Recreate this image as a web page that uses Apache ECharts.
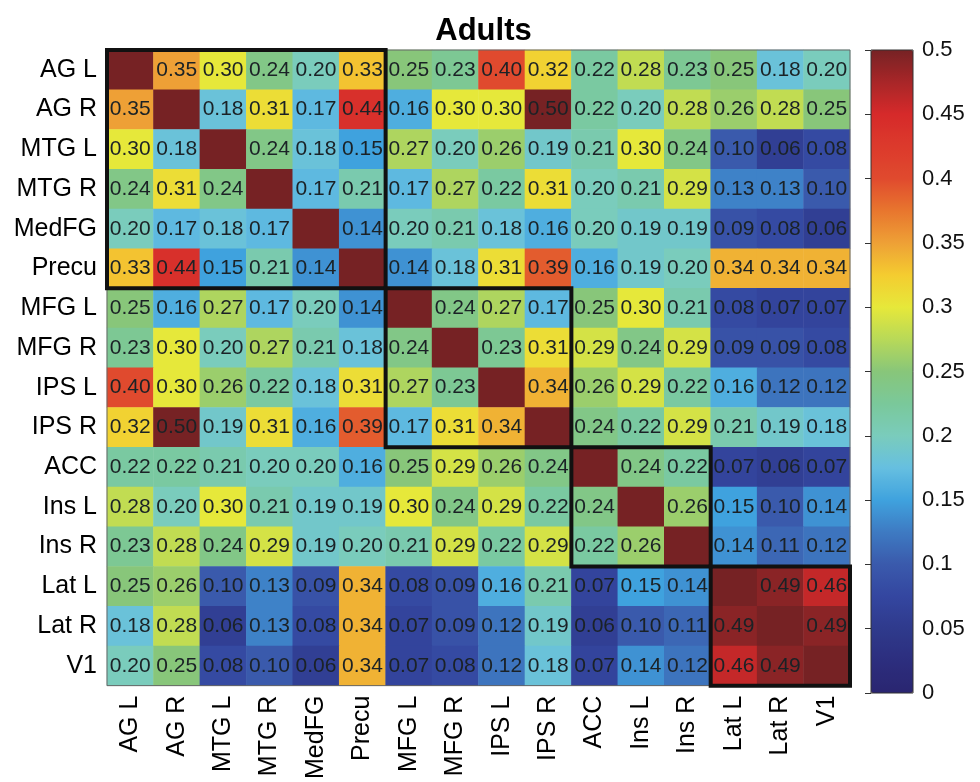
<!DOCTYPE html>
<html>
<head>
<meta charset="utf-8">
<script src="https://cdn.jsdelivr.net/npm/echarts@6/dist/echarts.min.js"></script>
<style>
html,body{margin:0;padding:0;background:#fff;}
#chart{width:980px;height:782px;}
</style>
</head>
<body>
<div id="chart"></div>
<script>
// Region labels (rows top to bottom, columns left to right)
const regions = ['AG L','AG R','MTG L','MTG R','MedFG','Precu','MFG L','MFG R','IPS L','IPS R','ACC','Ins L','Ins R','Lat L','Lat R','V1'];

// Correlation matrix (diagonal = 1, drawn saturated, no label)
const matrix = [
  [1.00,0.35,0.30,0.24,0.20,0.33,0.25,0.23,0.40,0.32,0.22,0.28,0.23,0.25,0.18,0.20],
  [0.35,1.00,0.18,0.31,0.17,0.44,0.16,0.30,0.30,0.50,0.22,0.20,0.28,0.26,0.28,0.25],
  [0.30,0.18,1.00,0.24,0.18,0.15,0.27,0.20,0.26,0.19,0.21,0.30,0.24,0.10,0.06,0.08],
  [0.24,0.31,0.24,1.00,0.17,0.21,0.17,0.27,0.22,0.31,0.20,0.21,0.29,0.13,0.13,0.10],
  [0.20,0.17,0.18,0.17,1.00,0.14,0.20,0.21,0.18,0.16,0.20,0.19,0.19,0.09,0.08,0.06],
  [0.33,0.44,0.15,0.21,0.14,1.00,0.14,0.18,0.31,0.39,0.16,0.19,0.20,0.34,0.34,0.34],
  [0.25,0.16,0.27,0.17,0.20,0.14,1.00,0.24,0.27,0.17,0.25,0.30,0.21,0.08,0.07,0.07],
  [0.23,0.30,0.20,0.27,0.21,0.18,0.24,1.00,0.23,0.31,0.29,0.24,0.29,0.09,0.09,0.08],
  [0.40,0.30,0.26,0.22,0.18,0.31,0.27,0.23,1.00,0.34,0.26,0.29,0.22,0.16,0.12,0.12],
  [0.32,0.50,0.19,0.31,0.16,0.39,0.17,0.31,0.34,1.00,0.24,0.22,0.29,0.21,0.19,0.18],
  [0.22,0.22,0.21,0.20,0.20,0.16,0.25,0.29,0.26,0.24,1.00,0.24,0.22,0.07,0.06,0.07],
  [0.28,0.20,0.30,0.21,0.19,0.19,0.30,0.24,0.29,0.22,0.24,1.00,0.26,0.15,0.10,0.14],
  [0.23,0.28,0.24,0.29,0.19,0.20,0.21,0.29,0.22,0.29,0.22,0.26,1.00,0.14,0.11,0.12],
  [0.25,0.26,0.10,0.13,0.09,0.34,0.08,0.09,0.16,0.21,0.07,0.15,0.14,1.00,0.49,0.46],
  [0.18,0.28,0.06,0.13,0.08,0.34,0.07,0.09,0.12,0.19,0.06,0.10,0.11,0.49,1.00,0.49],
  [0.20,0.25,0.08,0.10,0.06,0.34,0.07,0.08,0.12,0.18,0.07,0.14,0.12,0.46,0.49,1.00]
];

// Module blocks outlined in black: [first index, last index]
const modules = [[0,5],[6,9],[10,12],[13,15]];

// Colour scale
const colorMin = 0, colorMax = 0.5, colorStep = 0.05;
const jetColors = ['#2a2570','#2c2e7e','#2f3a8c','#3446a0','#3a5aac','#3e7ac2','#3fa2de','#66bfe0','#7accbc','#7ac89a','#88c67a','#b8d958','#e6e83a','#f4cc30','#eea036','#e8762e','#e04a2e','#dc3a2c','#d62a2a','#a82628','#762224'];

const heatData = [];
matrix.forEach((row, r) => row.forEach((v, c) => heatData.push([c, r, v])));

const FONT = '"Liberation Sans", Arial, Helvetica, sans-serif';
const chart = echarts.init(document.getElementById('chart'), null, {renderer:'canvas'});
chart.setOption({
  animation: false,
  backgroundColor: '#fff',
  textStyle: {fontFamily: FONT},
  title: {
    text: 'Adults', left: 478.5, top: 11, textAlign: 'center',
    textStyle: {fontSize: 31, fontWeight: 'bold', color: '#000', fontFamily: FONT}
  },
  grid: [
    {left: 107, top: 50, width: 743, height: 643, show: true, borderColor: '#666', borderWidth: 1, z: 10},
    {left: 871, top: 50, width: 42, height: 643, show: true, borderColor: '#333', borderWidth: 1, z: 10}
  ],
  xAxis: [
    {type: 'category', gridIndex: 0, data: regions, position: 'bottom',
     axisLine: {show: false}, axisTick: {show: false}, splitArea: {show: false},
     axisLabel: {rotate: 90, interval: 0, fontSize: 25, color: '#000', margin: 10, fontFamily: FONT}},
    {type: 'value', gridIndex: 1, min: 0, max: 1, show: false}
  ],
  yAxis: [
    {type: 'category', gridIndex: 0, data: regions, inverse: true,
     axisLine: {show: false}, axisTick: {show: false}, splitArea: {show: false},
     axisLabel: {interval: 0, fontSize: 25, color: '#000', margin: 10, fontFamily: FONT}},
    {type: 'value', gridIndex: 1, min: colorMin, max: colorMax, interval: colorStep, position: 'right',
     axisLine: {show: false}, splitLine: {show: false}, z: 12,
     axisTick: {show: true, inside: true, length: 6, lineStyle: {color: '#333', width: 1}},
     axisLabel: {fontSize: 22, color: '#111', margin: 9, fontFamily: FONT}}
  ],
  visualMap: {
    type: 'continuous', min: colorMin, max: colorMax, seriesIndex: 0,
    calculable: false, orient: 'vertical', left: 871, top: 50, padding: 0,
    itemWidth: 42, itemHeight: 643, hoverLink: false,
    inRange: {color: jetColors},
    outOfRange: {color: '#762224'}
  },
  series: [
    {
      type: 'heatmap', xAxisIndex: 0, yAxisIndex: 0, data: heatData, z: 2,
      itemStyle: {borderWidth: 0},
      emphasis: {disabled: true},
      label: {
        show: true, fontSize: 21, color: '#1b2226', fontFamily: FONT,
        formatter: p => (p.value[2] >= 1 ? '' : p.value[2].toFixed(2))
      }
    },
    {
      type: 'custom', xAxisIndex: 0, yAxisIndex: 0, z: 20, silent: true,
      data: modules,
      encode: {x: 0, y: 1},
      renderItem: function (params, api) {
        const s = api.value(0), e = api.value(1);
        const p0 = api.coord([s, s]);
        const p1 = api.coord([e, e]);
        const sz = api.size([1, 1]);
        const x0 = Math.min(p0[0], p1[0]) - sz[0] / 2;
        const x1 = Math.max(p0[0], p1[0]) + sz[0] / 2;
        const y0 = Math.min(p0[1], p1[1]) - sz[1] / 2;
        const y1 = Math.max(p0[1], p1[1]) + sz[1] / 2;
        return {type: 'rect', shape: {x: x0, y: y0, width: x1 - x0, height: y1 - y0},
                style: {fill: null, stroke: '#111', lineWidth: 4}};
      }
    }
  ]
});
</script>
</body>
</html>
